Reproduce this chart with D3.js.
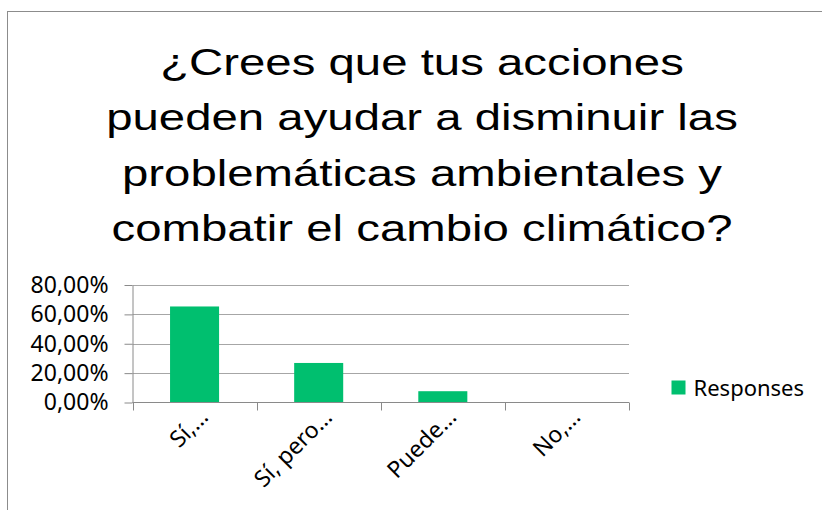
<!DOCTYPE html>
<html>
<head>
<meta charset="utf-8">
<script src="https://cdn.jsdelivr.net/npm/d3@7"></script>
<style>
  html, body { margin: 0; padding: 0; background: #fff; }
  svg { display: block; }
</style>
</head>
<body>
<svg id="chart" width="822" height="510"></svg>
<script>
const titleLines = [
  "¿Crees que tus acciones",
  "pueden ayudar a disminuir las",
  "problemáticas ambientales y",
  "combatir el cambio climático?"
];
const categories = ["Sí,…", "Sí, pero…", "Puede…", "No,…"];
const responses = [0.6538, 0.2692, 0.0769, 0];
const yTicks = [0, 0.2, 0.4, 0.6, 0.8];
const seriesName = "Responses";

const barColor = "#00bf6f";
const gridColor = "#a6a6a6";
const axisColor = "#8a8a8a";

/**
 * Draws the whole chart into #chart.
 */
function drawChart() {
  var svg = d3.select("#chart");
  var plotLeft = 132.5, plotRight = 629, plotTop = 285, plotBottom = 402.5;

  // outer chart border (only left and top are visible)
  svg.append("rect")
    .attr("x", 7.5).attr("y", 11.5)
    .attr("width", 900).attr("height", 600)
    .attr("fill", "none")
    .attr("stroke", "#8c8c8c")
    .attr("stroke-width", 1);

  // title, stretched horizontally like the source image
  var title = svg.append("g")
    .attr("transform", "translate(422,0) scale(1.28,1)");
  title.selectAll("text")
    .data(titleLines)
    .enter().append("text")
    .attr("x", 0)
    .attr("y", function(d, i) { return 75 + i * 55.5; })
    .attr("text-anchor", "middle")
    .style("font-family", "'Liberation Sans', Arial, sans-serif")
    .style("font-size", "37px")
    .attr("fill", "#000")
    .text(function(d) { return d; });

  var x = d3.scaleBand()
    .domain(categories)
    .range([plotLeft, plotRight])
    .padding(0);

  var y = d3.scaleLinear()
    .domain([0, 0.8])
    .range([plotBottom, plotTop]);

  var locale = d3.formatLocale({ decimal: ",", thousands: ".", grouping: [3], currency: ["", "€"] });
  var pct = locale.format(".2%");

  // gridlines
  svg.append("g")
    .selectAll("line")
    .data(yTicks.filter(function(d) { return d > 0; }))
    .enter().append("line")
    .attr("x1", plotLeft).attr("x2", plotRight)
    .attr("y1", function(d) { return Math.round(y(d)) + 0.5; })
    .attr("y2", function(d) { return Math.round(y(d)) + 0.5; })
    .attr("stroke", gridColor)
    .attr("stroke-width", 1);

  // bars
  var barW = x.bandwidth() * 0.395;
  svg.append("g")
    .selectAll("rect")
    .data(responses)
    .enter().append("rect")
    .attr("x", function(d, i) { return x(categories[i]) + (x.bandwidth() - barW) / 2; })
    .attr("y", function(d) { return y(d); })
    .attr("width", barW)
    .attr("height", function(d) { return plotBottom - y(d); })
    .attr("fill", barColor);

  // y axis
  var yAxis = svg.append("g")
    .attr("transform", "translate(" + plotLeft + ",0)")
    .call(d3.axisLeft(y).tickValues(yTicks).tickFormat(pct).tickSize(8).tickPadding(16).tickSizeOuter(0));
  yAxis.selectAll("path, line").attr("stroke", axisColor);
  yAxis.selectAll("text")
    .attr("fill", "#000")
    .style("font-family", "'Noto Sans', 'Open Sans', sans-serif")
    .style("font-size", "23px");

  // x axis baseline and category boundary ticks
  svg.append("line")
    .attr("x1", plotLeft).attr("x2", plotRight)
    .attr("y1", plotBottom).attr("y2", plotBottom)
    .attr("stroke", axisColor);
  var bounds = categories.map(function(c) { return x(c); }).concat([plotRight]);
  svg.append("g")
    .selectAll("line")
    .data(bounds)
    .enter().append("line")
    .attr("x1", function(d) { return Math.round(d) + 0.5; })
    .attr("x2", function(d) { return Math.round(d) + 0.5; })
    .attr("y1", plotBottom).attr("y2", plotBottom + 8)
    .attr("stroke", axisColor);

  // rotated category labels
  svg.append("g")
    .selectAll("text")
    .data(categories)
    .enter().append("text")
    .attr("transform", function(d) {
      return "translate(" + (x(d) + x.bandwidth() / 2 + 15) + "," + (plotBottom + 16) + ") rotate(-45)";
    })
    .attr("text-anchor", "end")
    .style("font-family", "'Noto Sans', 'Open Sans', sans-serif")
    .style("font-size", "23px")
    .attr("fill", "#000")
    .text(function(d) { return d; });

  // legend
  var legend = svg.append("g").attr("transform", "translate(671.5,380.5)");
  legend.append("rect")
    .attr("width", 14).attr("height", 14)
    .attr("fill", barColor);
  legend.append("text")
    .attr("x", 22).attr("y", 15)
    .style("font-family", "'Noto Sans', 'Open Sans', sans-serif")
    .style("font-size", "22px")
    .attr("fill", "#000")
    .text(seriesName);
}

drawChart();
</script>
</body>
</html>
